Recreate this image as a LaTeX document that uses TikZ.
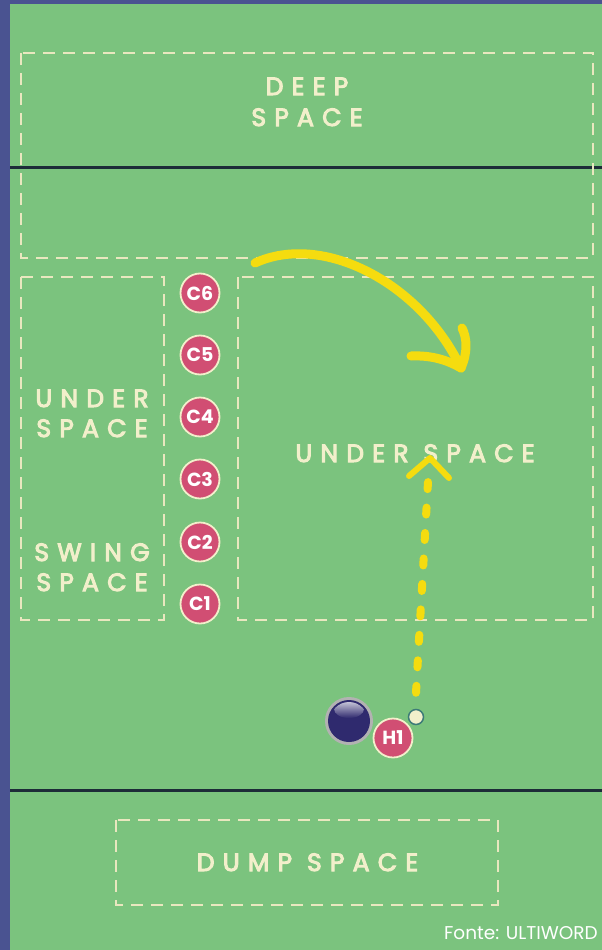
\documentclass[tikz,border=0pt]{standalone}
\usepackage{fontspec}
\setmainfont{Poppins}
\newfontfamily\labfont{Poppins}[LetterSpace=33,FakeBold=4]
\definecolor{bordercol}{HTML}{4A5391}
\definecolor{fieldcol}{HTML}{7BC37E}
\definecolor{linecol}{HTML}{1D2C38}
\definecolor{zonecol}{HTML}{E9E7BF}
\definecolor{textcol}{HTML}{F2EFCB}
\definecolor{pinkc}{HTML}{D14E73}
\definecolor{yellowc}{HTML}{F5DC0F}
\definecolor{navyc}{HTML}{2F2A6E}
\definecolor{tealc}{HTML}{3D7B78}
\tikzset{
  fieldline/.style={draw=linecol, line width=3pt},
  zone/.style={draw=zonecol, line width=2.8pt, dash pattern=on 12pt off 8pt},
  lab/.style={text=textcol, font=\labfont\fontsize{25}{29}\selectfont, inner sep=0pt, anchor=base},
  player/.style={circle, fill=pinkc, draw=textcol, line width=1.8pt, minimum size=39pt, inner sep=0pt, text=white, font=\bfseries\fontsize{19}{19}\selectfont},
  yarrow/.style={draw=yellowc, line cap=round, line join=round},
}
\begin{document}
\begin{tikzpicture}[x=1pt,y=-1pt]
\useasboundingbox (0,0) rectangle (602,950);
\fill[bordercol] (0,0) rectangle (602,950);
\fill[fieldcol] (10,4) rectangle (602,950);
\draw[fieldline] (10,167) -- (602,167);
\draw[fieldline] (10,790) -- (602,790);
% zones
\draw[zone] (21,53) rectangle (593,258);
\draw[zone] (21,277) rectangle (164,620);
\draw[zone] (238,277) rectangle (593,620);
\draw[zone] (116,820) rectangle (498,905);
% labels
\node[lab] (deepa) at (307,95) {DEEP};
\node[lab] (deepb) at (307,126) {SPACE};
\node[lab] (undla) at (92,407) {UNDER};
\node[lab] (undlb) at (92,437) {SPACE};
\node[lab] (swga) at (92,561) {SWING};
\node[lab] (swgb) at (92,591) {SPACE};
\node[lab] (undr) at (415,462) {UNDER SPACE};
\node[lab] (dump) at (307.5,871) {DUMP SPACE};
% cutters
\node[player] (c6) at (200,293) {C6};
\node[player] (c5) at (200,355) {C5};
\node[player] (c4) at (200,417) {C4};
\node[player] (c3) at (200,479) {C3};
\node[player] (c2) at (200,542) {C2};
\node[player] (c1) at (200,604) {C1};
% handler and disc
\node[player] (h1) at (393,738) {H1};
\fill[gray!60] (349,721) circle (24);
\fill[navyc] (349,721) circle (21);
\begin{scope}
  \clip (349,721) circle (19);
  \shade[top color=navyc!20, bottom color=navyc] (349,709) ellipse (15 and 9);
\end{scope}
\node[circle, fill=textcol, draw=tealc, line width=1.5pt, minimum size=15pt, inner sep=0pt] (disc) at (416,717) {};
% throw path (dotted)
\coordinate (dotend) at (428,482);
\coordinate (tip) at (430,458);
\draw[yarrow, line width=8pt, dash pattern=on 7pt off 18.5pt] ([yshift=16pt]disc.north) -- (dotend);
\draw[yarrow, line width=6pt] (409,476) -- (tip) -- (449,478);
% cut path (curved arrow)
\coordinate (cutstart) at (255,263);
\coordinate (cutend) at (461,368);
\draw[yarrow, line width=9pt] (cutstart) .. controls (322,232) and (420,282) .. (cutend);
\draw[yarrow, line width=9pt] (411,356) .. controls (433,355) and (449,361) .. (cutend);
\draw[yarrow, line width=9pt] (cutend) .. controls (468,352) and (467,338) .. (462,328);
% credit
\node[text=white, font=\fontsize{18.5}{20}\selectfont, anchor=base east, inner sep=0pt] (credit) at (598,939) {Fonte: ULTIWORD};
\end{tikzpicture}
\end{document}
